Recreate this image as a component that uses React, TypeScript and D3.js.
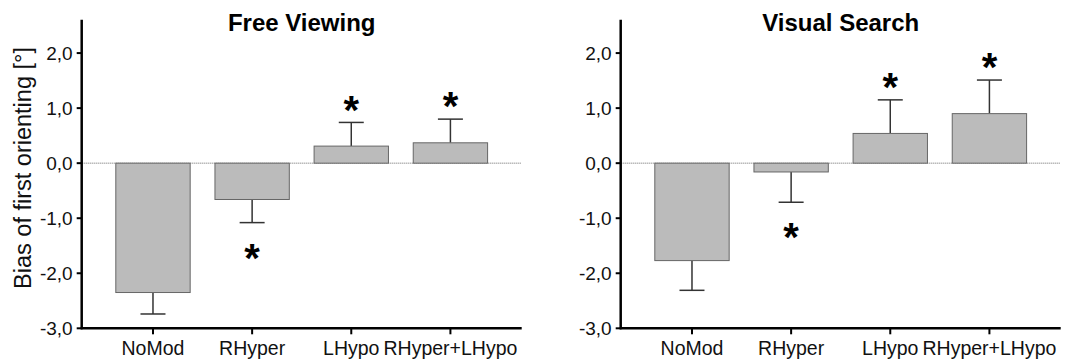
import React from "react";
import { scaleBand, scaleLinear, format } from "d3";

// data
const categories = ["NoMod", "RHyper", "LHypo", "RHyper+LHypo"];
const yTicks = [-3, -2, -1, 0, 1, 2];

const freeMeans = [-2.35, -0.66, 0.31, 0.37];
const freeErr = [0.39, 0.42, 0.43, 0.43];
const freeSig = [false, true, true, true];

const searchMeans = [-1.77, -0.16, 0.54, 0.9];
const searchErr = [0.54, 0.55, 0.61, 0.61];
const searchSig = [false, true, true, true];

const W = 1075;
const H = 361;
const plotW = 440;
const yDomain: [number, number] = [-3, 2.55];
const yRange: [number, number] = [328.3, 22.8];
const font = "Arial, 'Liberation Sans', Helvetica, sans-serif";

const fmt = (v: number) => format(".1f")(v).replace(".", ",").replace("−", "-");

function Panel({ left, title, means, errs, sig }: { left: number; title: string; means: number[]; errs: number[]; sig: boolean[] }) {
  const x = scaleBand<string>()
    .domain(categories)
    .range([left, left + plotW])
    .paddingInner(0.25)
    .paddingOuter(0.344);
  const y = scaleLinear().domain(yDomain).range(yRange);
  const y0 = y(0);
  const capW = 25;
  const starFs = 40;

  return (
    <g>
      <text x={left + plotW / 2} y={31} textAnchor="middle" fontFamily={font} fontWeight="bold" fontSize={24}>
        {title}
      </text>

      {/* zero line */}
      <line x1={left} x2={left + plotW} y1={y0} y2={y0} stroke="#666" strokeWidth={1} strokeDasharray="1,1" />

      {categories.map((c, i) => {
        const v = means[i];
        const e = v >= 0 ? v + errs[i] : v - errs[i];
        const bx = x(c) as number;
        const cx = bx + x.bandwidth() / 2;
        const starC = v >= 0 ? y(e) - 22 : y(e) + 26;
        return (
          <g key={c}>
            <line x1={cx} x2={cx} y1={y(v)} y2={y(e)} stroke="#333" strokeWidth={1.5} />
            <line x1={cx - capW / 2} x2={cx + capW / 2} y1={y(e)} y2={y(e)} stroke="#333" strokeWidth={1.5} />
            <rect
              x={bx}
              width={x.bandwidth()}
              y={Math.min(y(v), y0)}
              height={Math.abs(y(v) - y0)}
              fill="#bbbbbb"
              stroke="#666"
              strokeWidth={1}
            />
            {sig[i] && (
              <text x={cx} y={starC + 0.58 * starFs} textAnchor="middle" fontFamily={font} fontWeight="bold" fontSize={starFs}>
                *
              </text>
            )}
          </g>
        );
      })}

      {/* y axis */}
      <line x1={left} x2={left} y1={yRange[1] - 3} y2={yRange[0] + 1} stroke="#000" strokeWidth={2.5} />
      {yTicks.map((t) => (
        <g key={t}>
          <line x1={left - 5} x2={left} y1={y(t)} y2={y(t)} stroke="#000" strokeWidth={2} />
          <text x={left - 9} y={y(t)} dy="0.36em" textAnchor="end" fontFamily={font} fontSize={19} fill="#111">
            {fmt(t)}
          </text>
        </g>
      ))}

      {/* x axis */}
      <line x1={left - 1} x2={left + plotW} y1={yRange[0]} y2={yRange[0]} stroke="#000" strokeWidth={2.5} />
      {categories.map((c) => {
        const cx = (x(c) as number) + x.bandwidth() / 2;
        return (
          <g key={c}>
            <line x1={cx} x2={cx} y1={yRange[0]} y2={yRange[0] + 6} stroke="#000" strokeWidth={2} />
            <text x={cx} y={355} textAnchor="middle" fontFamily={font} fontSize={19.5} fill="#111">
              {c}
            </text>
          </g>
        );
      })}
    </g>
  );
}

export default function App() {
  return (
    <svg width={W} height={H} style={{ position: "absolute", left: 0, top: 0, background: "#fff" }}>
      <rect width={W} height={H} fill="#fff" />
      <text
        transform={`translate(31, ${168}) rotate(-90)`}
        textAnchor="middle"
        fontFamily={font}
        fontSize={23.5}
        fill="#111"
      >
        Bias of first orienting [°]
      </text>
      <Panel left={81.7} title="Free Viewing" means={freeMeans} errs={freeErr} sig={freeSig} />
      <Panel left={620.7} title="Visual Search" means={searchMeans} errs={searchErr} sig={searchSig} />
    </svg>
  );
}
